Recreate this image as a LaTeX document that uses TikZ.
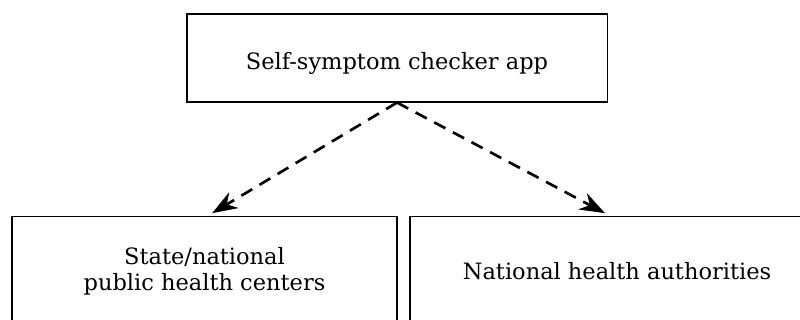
\documentclass[tikz,border=0pt]{standalone}
\usepackage{xcolor}
\usepackage{fontspec}
\setmainfont{DejaVu Serif}
\usetikzlibrary{arrows.meta}

\begin{document}
\begin{tikzpicture}[x=0.025cm,y=-0.025cm,
		box/.style={draw,line width=0.8pt,font=\fontsize{16}{18.5}\selectfont,align=center,inner sep=0pt},
		flow/.style={dashed,dash pattern=on 9pt off 6pt,line width=1.9pt,-{Stealth[length=18pt,width=13pt]}}]
		\useasboundingbox (0,0) rectangle (800,320);
		\node[box,minimum width=10.5cm,minimum height=2.2cm,text height=17pt,text depth=0pt] (app) at (397,58) {Self-symptom checker app};
		\node[box,anchor=north,minimum width=9.625cm,minimum height=2.75cm] (state) at (204.5,216) {State/national\\public health centers};
		\node[box,anchor=north,minimum width=10.35cm,minimum height=2.75cm] (nat) at (617,216) {National health authorities};
		\draw[flow](app.south)--([xshift=0.19cm,yshift=0.07cm]state.north);
		\draw[flow](app.south)--([xshift=-0.3cm,yshift=0.07cm]nat.north);
		\end{tikzpicture}
\end{document}
